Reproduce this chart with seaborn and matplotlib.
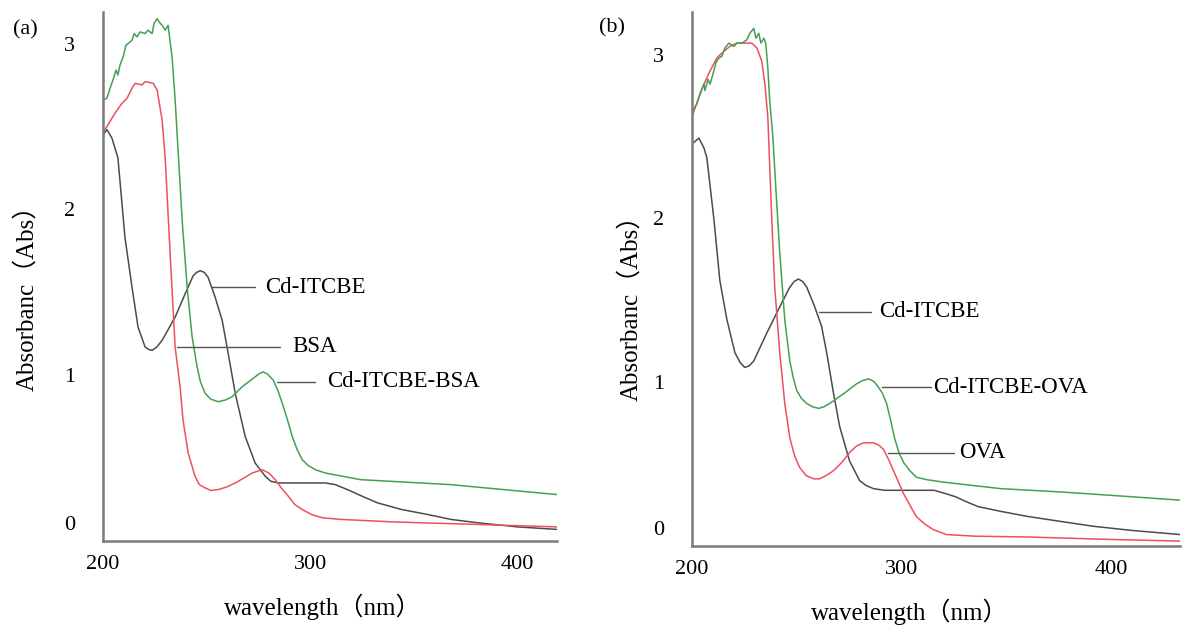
import numpy as np
import pandas as pd
import seaborn as sns
import matplotlib.pyplot as plt
import matplotlib.transforms as mtransforms

sns.set_style("white")
plt.rcParams['font.family'] = ['Liberation Serif', 'Noto Sans CJK SC']
plt.rcParams['text.color'] = 'black'
plt.rcParams['xtick.labelcolor'] = 'black'
plt.rcParams['ytick.labelcolor'] = 'black'

# ---- panel (a) : Cd-ITCBE / BSA / Cd-ITCBE-BSA ----
a_itcbe_x = [200, 201.9, 204.3, 207.2, 210.6, 214.0, 216.9, 220.3, 222.0, 223.7,
             226.0, 228.5, 234.8, 239.6, 243.5, 245.2, 246.9, 248.8, 250.7, 254.1,
             257.5, 260.4, 263.8, 268.6, 273.4, 278.3, 281.0, 284.5, 295.2, 307.2,
             312.0, 317.9, 325.0, 332.4, 344.0, 356.5, 368.0, 380.7, 400.0, 419]
a_itcbe_y = [2.45, 2.48, 2.43, 2.31, 1.83, 1.53, 1.29, 1.17, 1.155, 1.15,
             1.17, 1.21, 1.35, 1.49, 1.60, 1.62, 1.63, 1.62, 1.59, 1.47,
             1.33, 1.13, 0.89, 0.63, 0.47, 0.39, 0.36, 0.35, 0.35, 0.35,
             0.34, 0.31, 0.27, 0.23, 0.19, 0.16, 0.13, 0.11, 0.085, 0.07]

a_bsa_x = [200, 202.4, 205.8, 209.2, 211.6, 214.0, 215.5, 218.8, 220.3, 224.2,
           226.1, 228.5, 230.0, 232.4, 234.8, 237.2, 238.6, 241.1, 244.4, 246.5,
           249.3, 252.0, 255.6, 259.5, 263.8, 268.0, 272.0, 276.8, 280.0, 283.1,
           286.0, 289.4, 292.5, 296.1, 300.5, 305.8, 315.0, 340.1, 380.0, 419]
a_bsa_y = [2.46, 2.51, 2.58, 2.64, 2.67, 2.73, 2.76, 2.75, 2.77, 2.76,
           2.72, 2.54, 2.31, 1.73, 1.17, 0.93, 0.73, 0.53, 0.39, 0.34,
           0.32, 0.305, 0.31, 0.325, 0.35, 0.38, 0.41, 0.43, 0.41, 0.37,
           0.32, 0.27, 0.22, 0.19, 0.16, 0.14, 0.13, 0.115, 0.10, 0.085]

a_mix_x = [200, 201.9, 203.4, 204.8, 206.3, 207.2, 208.2, 209.7, 211.1, 212.1,
           214.0, 215.0, 216.4, 217.9, 220.3, 221.7, 223.7, 224.6, 226.1, 227.1,
           228.5, 230.0, 231.4, 233.3, 234.8, 236.2, 238.2, 240.6, 243.0, 245.4,
           247.0, 249.3, 252.0, 255.6, 259.0, 262.3, 267.1, 273.4, 275.5, 277.3,
           279.5, 282.1, 284.3, 286.5, 289.0, 291.3, 293.7, 296.1, 299.0, 302.4,
           307.2, 324.2, 367.6, 419]
a_mix_y = [2.66, 2.67, 2.73, 2.78, 2.84, 2.81, 2.87, 2.92, 2.99, 3.00,
           3.02, 3.06, 3.04, 3.07, 3.06, 3.08, 3.06, 3.12, 3.15, 3.13,
           3.11, 3.08, 3.11, 2.92, 2.66, 2.36, 1.93, 1.53, 1.23, 1.05,
           0.96, 0.89, 0.855, 0.84, 0.85, 0.87, 0.93, 0.99, 1.01, 1.02,
           1.005, 0.97, 0.91, 0.83, 0.73, 0.63, 0.55, 0.49, 0.455, 0.43,
           0.41, 0.37, 0.34, 0.28]

# ---- panel (b) : Cd-ITCBE / OVA / Cd-ITCBE-OVA ----
b_itcbe_x = [200.5, 203.3, 205.7, 207.1, 210.5, 213.3, 216.7, 220.5, 223.0, 225.2,
             227.3, 229.5, 235.7, 241.9, 246.7, 248.8, 250.8, 252.8, 254.8, 258.6,
             261.9, 264.3, 267.6, 270.5, 275.2, 280.0, 283.0, 286.7, 292.0, 301.0,
             315.7, 321.0, 326.0, 331.0, 336.7, 348.0, 360.5, 376.0, 391.9, 410.0,
             433]
b_itcbe_y = [2.46, 2.49, 2.43, 2.37, 1.99, 1.62, 1.38, 1.18, 1.12, 1.09,
             1.10, 1.13, 1.30, 1.46, 1.58, 1.615, 1.63, 1.615, 1.58, 1.46,
             1.34, 1.18, 0.93, 0.73, 0.52, 0.40, 0.37, 0.35, 0.34, 0.34,
             0.34, 0.32, 0.30, 0.27, 0.24, 0.21, 0.18, 0.15, 0.12, 0.095,
             0.07]

b_ova_x = [200.5, 203.3, 205.7, 208.6, 211.9, 215.2, 218.1, 221.4, 225.2, 228.6,
           231.0, 233.3, 234.8, 236.2, 238.1, 239.5, 241.9, 244.3, 246.7, 249.0,
           251.4, 254.5, 258.1, 261.0, 264.0, 267.6, 271.5, 275.2, 278.5, 281.9,
           286.7, 289.3, 291.4, 293.8, 296.2, 298.6, 301.0, 304.0, 307.1, 311.0,
           315.2, 321.4, 335.0, 360.5, 400.0, 433]
b_ova_y = [2.64, 2.74, 2.82, 2.90, 2.98, 3.02, 3.05, 3.07, 3.07, 3.07,
           3.04, 2.96, 2.82, 2.62, 1.99, 1.58, 1.18, 0.87, 0.66, 0.55,
           0.48, 0.43, 0.41, 0.41, 0.43, 0.46, 0.51, 0.57, 0.61, 0.63,
           0.63, 0.615, 0.59, 0.53, 0.46, 0.39, 0.32, 0.25, 0.18, 0.135,
           0.10, 0.07, 0.06, 0.055, 0.04, 0.03]

b_mix_x = [200.5, 202.4, 203.8, 205.7, 206.2, 207.6, 208.6, 210.0, 211.4, 212.9,
           214.3, 215.7, 217.6, 220.0, 221.4, 223.8, 226.2, 227.6, 229.5, 230.5,
           231.9, 232.9, 234.3, 235.2, 236.2, 237.1, 238.6, 240.0, 241.9, 244.3,
           246.7, 248.3, 250.0, 252.3, 254.8, 257.5, 260.5, 263.0, 265.7, 272.4,
           278.6, 281.5, 284.3, 286.8, 289.0, 291.0, 292.9, 294.8, 296.7, 298.8,
           301.0, 304.0, 307.1, 312.0, 320.0, 347.6, 376.0, 405.0, 433]
b_mix_y = [2.66, 2.70, 2.76, 2.82, 2.78, 2.85, 2.82, 2.88, 2.95, 2.98,
           2.99, 3.04, 3.07, 3.05, 3.07, 3.07, 3.09, 3.13, 3.16, 3.10,
           3.13, 3.07, 3.10, 3.07, 2.92, 2.72, 2.50, 2.19, 1.79, 1.38,
           1.13, 1.03, 0.95, 0.90, 0.87, 0.85, 0.84, 0.85, 0.87, 0.93,
           0.99, 1.01, 1.02, 1.005, 0.97, 0.93, 0.87, 0.77, 0.66, 0.57,
           0.51, 0.46, 0.42, 0.405, 0.39, 0.35, 0.33, 0.305, 0.28]

x_ticks = [200, 300, 400]
y_ticks = [0, 1, 2, 3]

colors = {'black': '#4b4b4b', 'red': '#ec5062', 'green': '#44a052'}

# annotation label, leader line start/end (nm), y, text x
labels_a = [('Cd-ITCBE', 252.7, 273.4, 1.53, 278.3),
            ('BSA', 235.7, 285.5, 1.17, 291.3),
            ('Cd-ITCBE-BSA', 284.1, 302.4, 0.96, 308.2)]
labels_b = [('Cd-ITCBE', 260.5, 285.7, 1.43, 289.5),
            ('Cd-ITCBE-OVA', 290.5, 314.3, 0.97, 315.2),
            ('OVA', 293.8, 325.2, 0.57, 327.6)]


def make_df(series):
    parts = []
    for name, xs, ys in series:
        parts.append(pd.DataFrame({'wavelength': xs, 'abs': ys, 'sample': name}))
    return pd.concat(parts, ignore_index=True)


df_a = make_df([('black', a_itcbe_x, a_itcbe_y),
                ('red', a_bsa_x, a_bsa_y),
                ('green', a_mix_x, a_mix_y)])
df_b = make_df([('black', b_itcbe_x, b_itcbe_y),
                ('red', b_ova_x, b_ova_y),
                ('green', b_mix_x, b_mix_y)])

fig = plt.figure(figsize=(11.87, 6.3), dpi=100)
ax_a = fig.add_axes([103 / 1187, 89 / 630, 454 / 1187, 529 / 630])
ax_b = fig.add_axes([692 / 1187, 84 / 630, 488 / 1187, 534 / 630])

panels = [(ax_a, df_a, labels_a, (200, 419), (0, 3.19)),
          (ax_b, df_b, labels_b, (200, 433), (0, 3.26))]

for ax, df, labels, xlim, ylim in panels:
    sns.lineplot(data=df, x='wavelength', y='abs', hue='sample', palette=colors,
                 estimator=None, sort=False, legend=False, lw=1.1, ax=ax)
    for line in ax.get_lines():
        line.set_solid_joinstyle('round')
    for text, x0, x1, y, tx in labels:
        ax.plot([x0, x1], [y, y], color='#555555', lw=1.0)
        ax.text(tx, y, text, fontsize=16.5, va='center', ha='left')
    ax.set_xlim(*xlim)
    ax.set_ylim(*ylim)
    ax.set_xticks(x_ticks)
    ax.set_yticks(y_ticks)
    ax.set_xlabel('')
    ax.set_ylabel('')
    sns.despine(ax=ax)
    for s in ['left', 'bottom']:
        ax.spines[s].set_color('#7a7a7a')
        ax.spines[s].set_linewidth(1.8)
    ax.tick_params(axis='x', direction='in', length=3, color='#888888',
                   labelsize=16, pad=10)
    ax.tick_params(axis='y', direction='in', length=3, color='#888888',
                   labelsize=16, pad=20)
    # the zero label sits a little above the axis line in the original
    lab0 = ax.get_yticklabels()[0]
    lab0.set_transform(lab0.get_transform() +
                       mtransforms.ScaledTranslation(0, 0.18, fig.dpi_scale_trans))

fig.text(25 / 1187, 1 - 30 / 630, '(a)', fontsize=16, ha='center', va='center')
fig.text(612 / 1187, 1 - 28 / 630, '(b)', fontsize=16, ha='center', va='center')

fig.text(26 / 1187, 1 - 292 / 630, 'Absorbanc（Abs）', fontsize=18,
         rotation=90, ha='center', va='center')
fig.text(630 / 1187, 1 - 302 / 630, 'Absorbanc（Abs）', fontsize=18,
         rotation=90, ha='center', va='center')
fig.text(323 / 1187, 1 - 607 / 630, 'wavelength（nm）', fontsize=18,
         ha='center', va='center')
fig.text(910 / 1187, 1 - 612 / 630, 'wavelength（nm）', fontsize=18,
         ha='center', va='center')

fig.savefig('out.png', dpi=100, facecolor='white')
